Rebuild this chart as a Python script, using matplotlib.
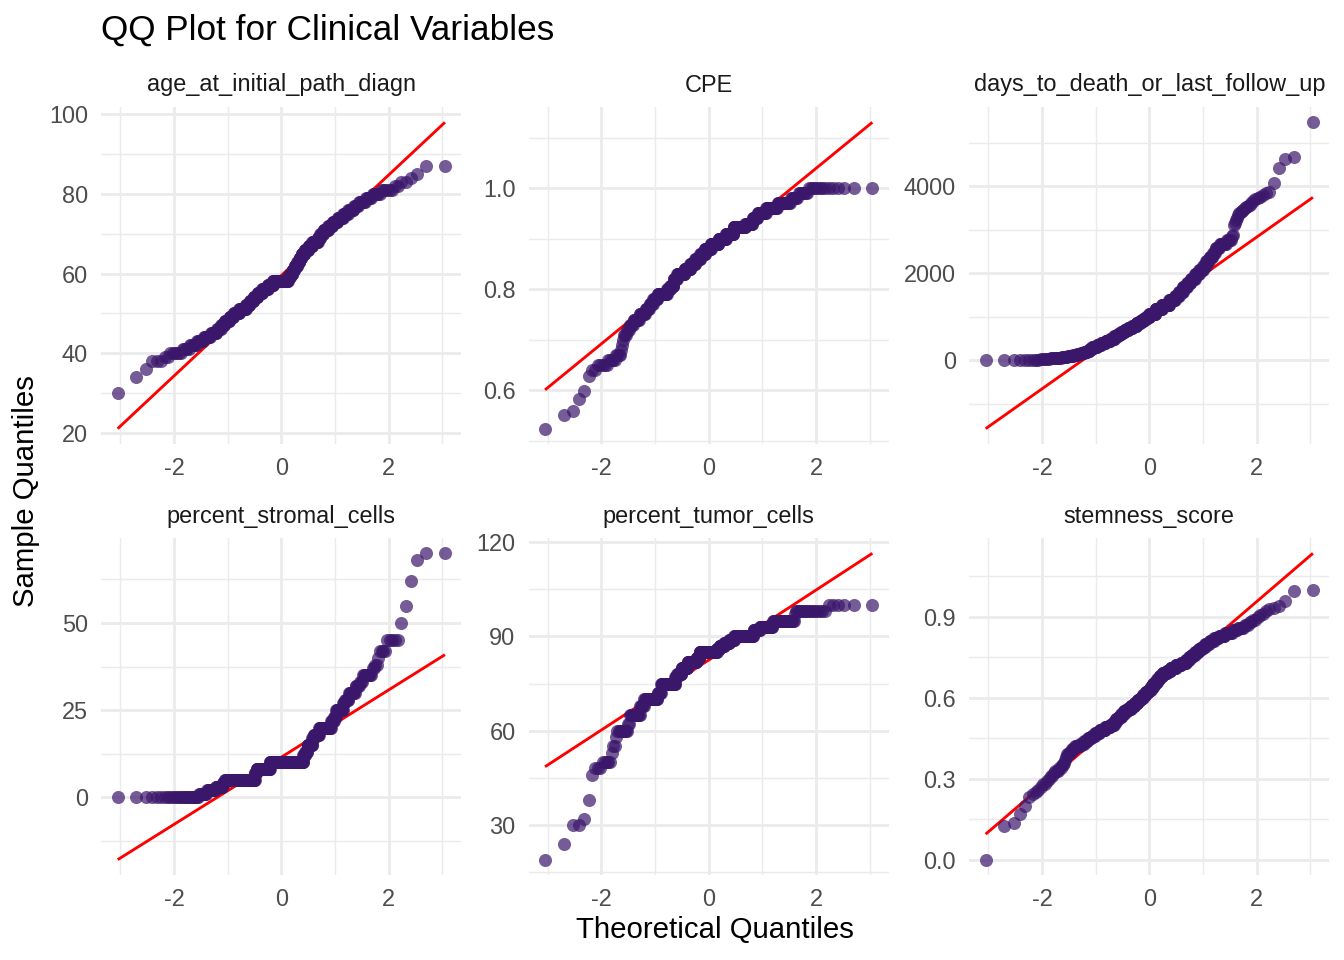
import numpy as np
import matplotlib
matplotlib.use("Agg")
import matplotlib.pyplot as plt
from statistics import NormalDist

plt.rcParams['font.family'] = ['Liberation Sans', 'DejaVu Sans']
plt.rcParams['axes.unicode_minus'] = False

# ---------------- data (sample values and how many patients share each value) ----------------
panel_names = ["age_at_initial_path_diagn", "CPE", "days_to_death_or_last_follow_up",
               "percent_stromal_cells", "percent_tumor_cells", "stemness_score"]

age_values = [30, 34, 36, 38, 39, 40, 41, 42, 43, 44, 45, 46, 47, 48, 49, 50, 51, 52, 53, 54, 55,
              56, 57, 58, 59, 60, 61, 62, 63, 64, 65, 66, 67, 68, 69, 70, 71, 72, 73, 74, 75, 76,
              77, 78, 79, 80, 81, 82, 83, 84, 85, 87]
age_counts = [1, 1, 1, 3, 2, 6, 5, 6, 7, 9, 9, 7, 7, 9, 9, 13, 17, 10, 11, 12, 14,
              17, 17, 48, 8, 7, 7, 8, 7, 7, 9, 11, 11, 15, 6, 8, 11, 9, 10, 10, 8, 8,
              6, 7, 6, 6, 6, 2, 2, 1, 1, 2]

cpe_values = [0.524, 0.552, 0.558, 0.582, 0.599, 0.628, 0.64, 0.65, 0.66, 0.67, 0.68, 0.69, 0.70,
              0.71, 0.72, 0.73, 0.74, 0.75, 0.76, 0.77, 0.78, 0.79, 0.80, 0.807, 0.82, 0.83, 0.84,
              0.85, 0.86, 0.87, 0.88, 0.89, 0.90, 0.91, 0.924, 0.93, 0.94, 0.95, 0.96, 0.97, 0.98,
              0.99, 1.00]
cpe_counts = [1, 1, 1, 1, 1, 1, 2, 5, 5, 4, 1, 1, 1,
              3, 3, 4, 8, 9, 7, 7, 9, 21, 8, 9, 9, 21, 18,
              15, 16, 16, 19, 25, 23, 23, 33, 18, 11, 17, 19, 16, 7,
              7, 14]

days_values = [0, 25, 50, 75, 100, 125, 150, 175, 200, 225, 250, 300, 350, 400, 450, 500, 550, 600,
               650, 700, 750, 800, 850, 900, 950, 1000, 1075, 1175, 1275, 1375, 1475, 1575, 1675,
               1775, 1875, 1975, 2075, 2175, 2275, 2375, 2475, 2575, 2675, 2775,
               2850, 2880, 3110, 3160, 3220, 3280, 3330, 3380, 3410, 3440, 3460, 3490, 3520, 3550,
               3580, 3610, 3660, 3700, 3730, 3760, 3800, 3840, 3860, 4083, 4414, 4621, 4667, 5470]
days_counts = [9, 5, 8, 6, 6, 5, 5, 5, 5, 4, 5, 9, 9, 10, 11, 11, 10, 9,
               10, 11, 12, 13, 12, 10, 10, 10, 20, 21, 23, 17, 11, 11, 11,
               9, 10, 9, 8, 6, 6, 6, 4, 6, 9, 5,
               1, 1, 1, 1, 1, 1, 1, 1, 1, 1, 1, 1, 1, 1,
               1, 1, 1, 1, 1, 1, 1, 1, 1, 1, 1, 1, 1, 1]

stromal_values = [0, 1, 2, 3, 4, 5, 7, 8, 10, 12, 13, 15, 17, 18, 20, 22, 23, 25, 27, 28, 30, 32,
                  33, 35, 37, 38, 40, 42, 45, 50, 55, 62, 68, 70]
stromal_counts = [27, 9, 12, 12, 4, 73, 5, 41, 107, 6, 6, 14, 4, 14, 28, 6, 4, 13, 3, 6, 9, 5,
                  3, 9, 2, 2, 1, 4, 5, 1, 1, 1, 1, 2]

tumor_values = [19, 24, 30, 32, 38, 46, 48, 50, 53, 55, 58, 60, 62, 65, 68, 70, 72, 75, 77, 78, 80,
                82, 83, 85, 86, 87, 88, 89, 90, 92, 93, 95, 97, 98, 100]
tumor_counts = [1, 1, 2, 1, 1, 1, 3, 5, 1, 2, 1, 10, 2, 13, 6, 25, 7, 35, 5, 13, 17,
                28, 10, 56, 9, 15, 15, 15, 51, 14, 24, 27, 1, 17, 6]

stem_values = [0.00, 0.125, 0.137, 0.168, 0.20, 0.232, 0.242, 0.25, 0.26,
               0.27, 0.28, 0.29, 0.30, 0.31, 0.32, 0.33, 0.34, 0.35, 0.36, 0.37, 0.38, 0.39, 0.40,
               0.41, 0.42, 0.43, 0.44, 0.45, 0.46, 0.47, 0.48, 0.49, 0.50, 0.51, 0.52, 0.53, 0.54,
               0.55, 0.56, 0.57, 0.58, 0.59, 0.60, 0.61, 0.62, 0.63, 0.64, 0.65, 0.66, 0.67, 0.68,
               0.69, 0.70, 0.71, 0.72, 0.73, 0.74, 0.75, 0.76, 0.77, 0.78, 0.79, 0.80, 0.81, 0.82,
               0.83, 0.84, 0.85, 0.86, 0.87, 0.88, 0.89,
               0.90, 0.905, 0.91, 0.92, 0.93, 0.933, 0.94, 0.958, 0.995, 1.00]
stem_counts = [1, 1, 1, 1, 1, 1, 1, 1, 1,
               1, 2, 1, 1, 2, 1, 3, 2, 2, 1, 1, 1, 3, 2,
               4, 7, 6, 6, 7, 6, 10, 12, 12, 10, 5, 7, 8, 8,
               10, 11, 11, 10, 9, 8, 9, 9, 8, 7, 7, 7, 7, 10,
               13, 12, 15, 15, 13, 8, 7, 7, 8, 7, 6, 8, 8, 7,
               8, 8, 5, 5, 3, 2, 2,
               1, 1, 1, 1, 1, 1, 1, 1, 1, 1]

# axis breaks and labels
x_major = [-2, 0, 2]
x_major_labels = ["-2", "0", "2"]
x_minor = [-3, -1, 1, 3]

y_major = [[20, 40, 60, 80, 100], [0.6, 0.8, 1.0], [0, 2000, 4000],
           [0, 25, 50], [30, 60, 90, 120], [0.0, 0.3, 0.6, 0.9]]
y_major_labels = [["20", "40", "60", "80", "100"], ["0.6", "0.8", "1.0"], ["0", "2000", "4000"],
                  ["0", "25", "50"], ["30", "60", "90", "120"], ["0.0", "0.3", "0.6", "0.9"]]
y_minor = [[10, 30, 50, 70, 90, 110], [0.5, 0.7, 0.9, 1.1], [-1000, 1000, 3000, 5000],
           [-12.5, 12.5, 37.5, 62.5], [15, 45, 75, 105], [0.15, 0.45, 0.75, 1.05]]

samples = [(age_values, age_counts), (cpe_values, cpe_counts), (days_values, days_counts),
           (stromal_values, stromal_counts), (tumor_values, tumor_counts), (stem_values, stem_counts)]

# ---------------- style ----------------
POINT_COLOR = "#3B176B"
GRID = "#EBEBEB"
W, H = 1344, 960
fig = plt.figure(figsize=(7, 5), dpi=192)
fig.patch.set_facecolor("white")

col_left = [101.3, 528.7, 969.3]
row_top = [107.0, 538.0]
pw, ph = 360.0, 337.0

nd = NormalDist()


def ppoints(n):
    a = 3 / 8 if n <= 10 else 0.5
    return (np.arange(1, n + 1) - a) / (n + 1 - 2 * a)


for k, (vals, cnts) in enumerate(samples):
    r, c = divmod(k, 3)
    left, top = col_left[c], row_top[r]
    ax = fig.add_axes([left / W, 1 - (top + ph) / H, pw / W, ph / H])
    y = np.sort(np.repeat(np.array(vals, dtype=float), cnts))
    n = len(y)
    x = np.array([nd.inv_cdf(p) for p in ppoints(n)])
    # qq line through quartiles
    qx = np.array([nd.inv_cdf(0.25), nd.inv_cdf(0.75)])
    qy = np.quantile(y, [0.25, 0.75])
    slope = (qy[1] - qy[0]) / (qx[1] - qx[0])
    inter = qy[0] - slope * qx[0]
    lx = np.array([x.min(), x.max()])
    ly = inter + slope * lx

    ax.plot(lx, ly, color="#FF0000", lw=1.07, zorder=2, solid_capstyle="butt")
    ax.scatter(x, y, s=24, color=POINT_COLOR, alpha=0.7, linewidths=0, zorder=3)

    xlo, xhi = x.min(), x.max()
    ylo, yhi = min(y.min(), ly.min()), max(y.max(), ly.max())
    dx, dy = (xhi - xlo) * 0.05, (yhi - ylo) * 0.05
    xl = (xlo - dx, xhi + dx)
    yl = (ylo - dy, yhi + dy)

    ym = [(t, lab) for t, lab in zip(y_major[k], y_major_labels[k]) if yl[0] <= t <= yl[1]]
    ax.set_xticks(x_major)
    ax.set_xticklabels(x_major_labels)
    ax.set_xticks([t for t in x_minor if xl[0] <= t <= xl[1]], minor=True)
    ax.set_yticks([t for t, _ in ym])
    ax.set_yticklabels([lab for _, lab in ym])
    ax.set_yticks([t for t in y_minor[k] if yl[0] <= t <= yl[1]], minor=True)
    ax.set_xlim(*xl)
    ax.set_ylim(*yl)

    ax.set_facecolor("white")
    for s in ax.spines.values():
        s.set_visible(False)
    ax.set_axisbelow(True)
    ax.grid(which="major", color=GRID, lw=1.07)
    ax.grid(which="minor", color=GRID, lw=0.53)
    ax.tick_params(which="both", length=0)
    ax.tick_params(which="major", pad=4.95, labelsize=8.8, labelcolor="#4D4D4D")

    fig.text((left + pw / 2) / W, 1 - (top - 15.5) / H, panel_names[k], ha="center",
             va="baseline", fontsize=8.8, color="#1A1A1A")

fig.text(101.3 / W, 1 - 40 / H, "QQ Plot for Clinical Variables", ha="left", va="baseline",
         fontsize=13.2, color="black")
fig.text(715.3 / W, 1 - 930 / H, "Theoretical Quantiles", ha="center", va="center",
         fontsize=11, color="black")
fig.text(26 / W, 1 - 491 / H, "Sample Quantiles", ha="center", va="center", rotation=90,
         fontsize=11, color="black")

fig.savefig("out.png", dpi=192, facecolor="white")
